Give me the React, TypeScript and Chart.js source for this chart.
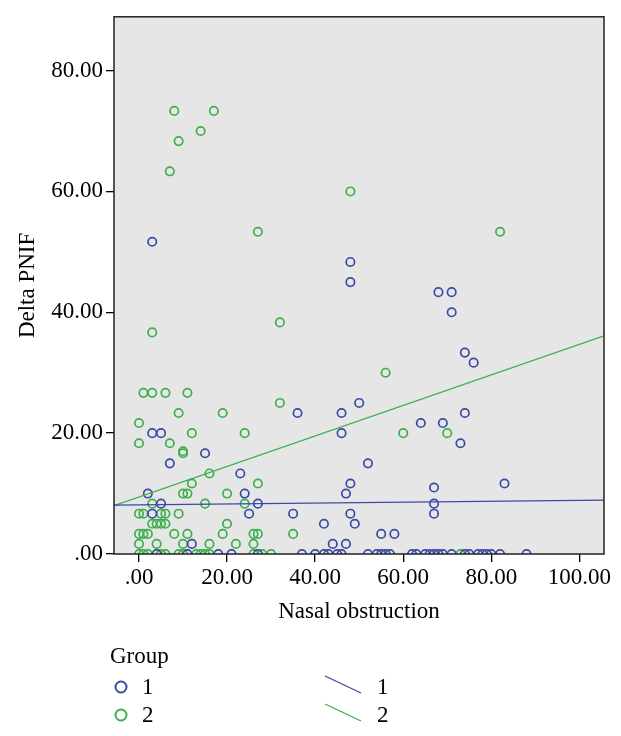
import React, { useEffect, useRef } from "react";
import { Chart, registerables } from "chart.js";

Chart.register(...registerables);

const BLUE = "#3a4aa6";
const GREEN = "#3daf4a";
const FONT = "'Liberation Serif', 'Times New Roman', serif";

// Group 1 (blue circles)
const group1X = [
  3, 48, 48, 68, 71, 71, 74, 76, 50, 36, 46, 74, 64, 69, 3, 5, 46, 73, 15, 7, 52, 23, 48, 83, 67, 2, 24, 47,
  67, 5, 27, 3, 25, 35, 48, 67, 42, 49, 55, 58, 12, 44, 47,
  4, 11, 18, 21, 27, 37, 40, 42, 43, 45, 46, 52, 54, 55, 56, 57, 62, 63, 65, 66, 67, 68, 69, 71, 74, 75, 77,
  78, 79, 80, 82, 88,
];
const group1Y = [
  51.67, 48.33, 45, 43.33, 43.33, 40, 33.33, 31.67, 25, 23.33, 23.33, 23.33, 21.67, 21.67, 20, 20, 20, 18.33,
  16.67, 15, 15, 13.33, 11.67, 11.67, 11, 10, 10, 10, 8.33, 8.33, 8.33, 6.67, 6.67, 6.67, 6.67, 6.67, 5, 5,
  3.33, 3.33, 1.67, 1.67, 1.67,
  0, 0, 0, 0, 0, 0, 0, 0, 0, 0, 0, 0, 0, 0, 0, 0, 0, 0, 0, 0, 0, 0, 0, 0, 0, 0, 0, 0, 0, 0, 0, 0,
];

// Group 2 (green circles)
const group2X = [
  8, 17, 14, 9, 7, 48, 27, 82, 32, 3, 56, 1, 3, 6, 11, 32, 9, 19, 0, 12, 24, 60, 70, 0, 7, 10, 10, 16, 12, 27,
  10, 11, 20, 3, 15, 24, 0, 1, 5, 6, 9, 3, 4, 5, 6, 20, 0, 1, 2, 8, 11, 19, 26, 27, 35, 0, 4, 10, 16, 22, 26,
  0, 1, 2, 5, 6, 9, 10, 13, 14, 15, 16, 26, 28, 30, 73,
];
const group2Y = [
  73.33, 73.33, 70, 68.33, 63.33, 60, 53.33, 53.33, 38.33, 36.67, 30, 26.67, 26.67, 26.67, 26.67, 25, 23.33,
  23.33, 21.67, 20, 20, 20, 20, 18.33, 18.33, 16.67, 17, 13.33, 11.67, 11.67, 10, 10, 10, 8.33, 8.33, 8.33,
  6.67, 6.67, 6.67, 6.67, 6.67, 5, 5, 5, 5, 5, 3.33, 3.33, 3.33, 3.33, 3.33, 3.33, 3.33, 3.33, 3.33, 1.67,
  1.67, 1.67, 1.67, 1.67, 1.67,
  0, 0, 0, 0, 0, 0, 0, 0, 0, 0, 0, 0, 0, 0, 0,
];

// Fit lines (read at the axis extents)
const fitX = [-5.68, 105.6];
const fit1Y = [8.1, 8.9];
const fit2Y = [8.0, 36.1];

const xTicks = [0, 20, 40, 60, 80, 100];
const xTickLabels = [".00", "20.00", "40.00", "60.00", "80.00", "100.00"];
const yTicks = [0, 20, 40, 60, 80];
const yTickLabels = [".00", "20.00", "40.00", "60.00", "80.00"];
const groupNames = ["1", "2"];

const pts = (xs: number[], ys: number[]) => xs.map((x, i) => ({ x, y: ys[i] }));

const framePlugin = {
  id: "frame",
  beforeDraw(chart: any) {
    const { ctx, chartArea } = chart;
    const { left, top, width, height } = chartArea;
    ctx.save();
    ctx.fillStyle = "#e6e6e6";
    ctx.fillRect(left, top, width, height);
    ctx.restore();
  },
  afterDraw(chart: any) {
    const { ctx, chartArea } = chart;
    const { left, top, width, height } = chartArea;
    ctx.save();
    ctx.strokeStyle = "#222";
    ctx.lineWidth = 1.5;
    ctx.strokeRect(left, top, width, height);

    // legend
    ctx.fillStyle = "#000";
    ctx.font = `23px ${FONT}`;
    ctx.textBaseline = "middle";
    ctx.textAlign = "left";
    ctx.fillText("Group", 110, 657);
    const colors = [BLUE, GREEN];
    const rows = [687, 715];
    colors.forEach((c, i) => {
      const y = rows[i];
      ctx.strokeStyle = c;
      ctx.lineWidth = 2;
      ctx.beginPath();
      ctx.arc(121, y, 5.5, 0, Math.PI * 2);
      ctx.stroke();
      ctx.fillStyle = "#000";
      ctx.fillText(groupNames[i], 142, y + 1);
      ctx.lineWidth = 1.3;
      ctx.beginPath();
      ctx.moveTo(325, y - 11);
      ctx.lineTo(361, y + 6);
      ctx.stroke();
      ctx.fillText(groupNames[i], 377, y + 1);
    });
    ctx.restore();
  },
};

export default function App() {
  const ref = useRef<HTMLCanvasElement | null>(null);
  useEffect(() => {
    if (!ref.current) return;
    const tickFont = { family: FONT, size: 23 };
    const chart = new Chart(ref.current, {
      type: "scatter",
      data: {
        datasets: [
          {
            label: "fit1",
            data: pts(fitX, fit1Y),
            showLine: true,
            borderColor: BLUE,
            borderWidth: 1.3,
            pointRadius: 0,
            fill: false,
            clip: 0,
            order: 0,
          } as any,
          {
            label: "fit2",
            data: pts(fitX, fit2Y),
            showLine: true,
            borderColor: GREEN,
            borderWidth: 1.3,
            pointRadius: 0,
            fill: false,
            clip: 0,
            order: 0,
          } as any,
          {
            label: "1",
            data: pts(group1X, group1Y),
            borderColor: BLUE,
            backgroundColor: "rgba(0,0,0,0)",
            pointRadius: 4.2,
            borderWidth: 1.7,
            clip: 0,
            order: 1,
          } as any,
          {
            label: "2",
            data: pts(group2X, group2Y),
            borderColor: GREEN,
            backgroundColor: "rgba(0,0,0,0)",
            pointRadius: 4.2,
            borderWidth: 1.7,
            clip: 0,
            order: 2,
          } as any,
        ],
      },
      options: {
        animation: false,
        responsive: true,
        maintainAspectRatio: false,
        layout: { padding: { top: 14, right: 17, left: 0, bottom: 0 } },
        plugins: { legend: { display: false }, tooltip: { enabled: false } },
        scales: {
          x: {
            type: "linear",
            min: -5.68,
            max: 105.6,
            afterBuildTicks: (s: any) => {
              s.ticks = xTicks.map((v) => ({ value: v }));
            },
            afterFit: (s: any) => {
              s.height = 182;
            },
            ticks: {
              autoSkip: false,
              maxRotation: 0,
              color: "#000",
              font: tickFont,
              padding: 2,
              callback: (v: any) => xTickLabels[xTicks.indexOf(Number(v))],
            },
            grid: { drawOnChartArea: false, tickLength: 8, color: "#000", lineWidth: 1.3 },
            border: { display: false },
            title: {
              display: true,
              text: "Nasal obstruction",
              color: "#000",
              font: tickFont,
              padding: { top: 0, bottom: 110 },
            },
          },
          y: {
            type: "linear",
            min: 0,
            max: 88.9,
            afterBuildTicks: (s: any) => {
              s.ticks = yTicks.map((v) => ({ value: v }));
            },
            afterFit: (s: any) => {
              s.width = 114;
            },
            ticks: {
              autoSkip: false,
              color: "#000",
              font: tickFont,
              padding: 3,
              callback: (v: any) => yTickLabels[yTicks.indexOf(Number(v))],
            },
            grid: { drawOnChartArea: false, tickLength: 8, color: "#000", lineWidth: 1.3 },
            border: { display: false },
            title: {
              display: true,
              text: "Delta PNIF",
              color: "#000",
              font: tickFont,
              padding: { top: 14, bottom: 0 },
            },
          },
        },
      } as any,
      plugins: [framePlugin],
    });
    return () => chart.destroy();
  }, []);

  return (
    <div style={{ position: "absolute", left: 0, top: 0, width: 621, height: 736, background: "#fff" }}>
      <canvas ref={ref} />
    </div>
  );
}
